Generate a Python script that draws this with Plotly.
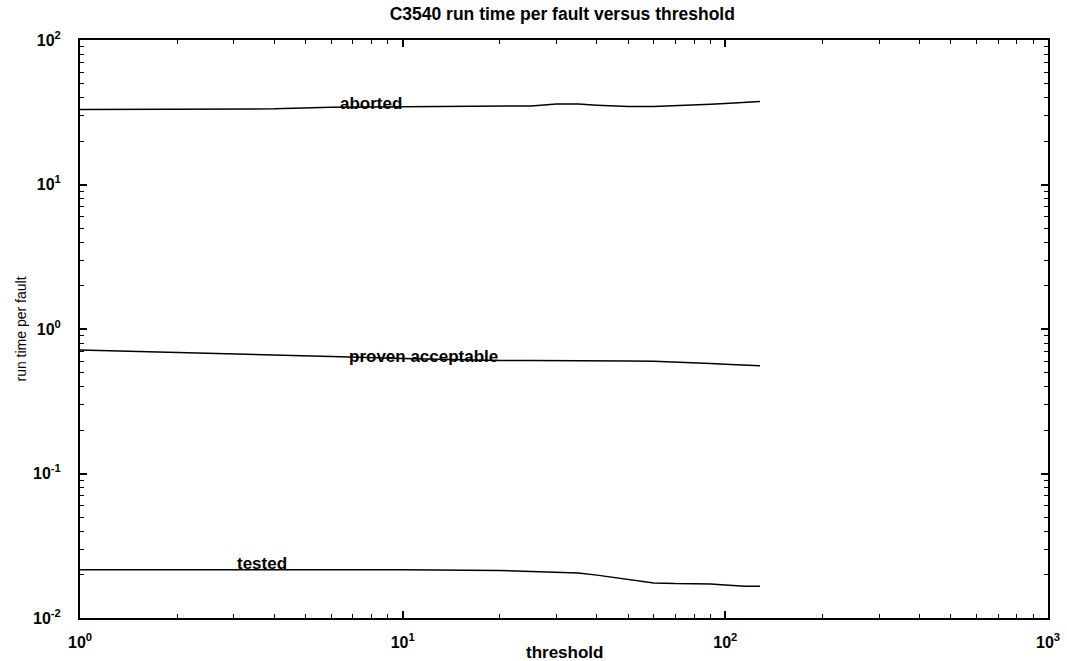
import math
import plotly.graph_objects as go

# ---- data ----
threshold = [1, 2, 3, 4, 6, 10, 15, 20, 25, 30, 35, 40, 50, 60, 70, 80, 90, 100, 115, 128]
aborted = [33.0, 33.0, 33.1, 33.4, 34.2, 34.5, 34.5, 34.6, 35.0, 36.0, 36.1, 35.4, 34.6, 34.6, 35.0, 35.5, 35.9, 36.4, 37.0, 37.5]
proven_acceptable = [0.715, 0.69, 0.675, 0.665, 0.645, 0.625, 0.612, 0.606, 0.605, 0.605, 0.604, 0.602, 0.600, 0.597, 0.592, 0.585, 0.578, 0.571, 0.563, 0.556]
tested = [0.0216, 0.0215, 0.0215, 0.0216, 0.0216, 0.0216, 0.0215, 0.0213, 0.0210, 0.0207, 0.0205, 0.0198, 0.0185, 0.0175, 0.0173, 0.0173, 0.0172, 0.0169, 0.0166, 0.0166]

# label anchor (threshold, value, pixel shift) for each curve
series = [("aborted", aborted, 8.0, 34.5, 3),
          ("proven acceptable", proven_acceptable, 11.6, 0.61, 4),
          ("tested", tested, 3.66, 0.0215, 6)]

x_tickvals = [1, 10, 100, 1000]
x_ticktext = ["<b>10<sup>0</sup></b>", "<b>10<sup>1</sup></b>", "<b>10<sup>2</sup></b>", "<b>10<sup>3</sup></b>"]
y_tickvals = [0.01, 0.1, 1, 10, 100]
y_ticktext = ["<b>10<sup>-2</sup></b>", "<b>10<sup>-1</sup></b>", "<b>10<sup>0</sup></b>", "<b>10<sup>1</sup></b>", "<b>10<sup>2</sup></b>"]

title_text = "C3540 run time per fault versus threshold"
x_title = "threshold"
y_title = "run time per fault"

x_minor = [m * 10 ** d for d in range(0, 3) for m in range(2, 10)]
y_minor = [m * 10 ** d for d in range(-2, 2) for m in range(2, 10)]

FONT = "Liberation Sans, Arial, Helvetica, sans-serif"

fig = go.Figure()
for name, vals, lx, ly, shift in series:
    fig.add_trace(go.Scatter(x=threshold, y=vals, mode="lines", name=name,
                             line=dict(color="black", width=1.5), showlegend=False,
                             hoverinfo="skip"))
    # annotation coordinates on log axes are given in log10 units
    fig.add_annotation(x=math.log10(lx), y=math.log10(ly), xref="x", yref="y",
                       text="<b>%s</b>" % name, showarrow=False, yshift=shift,
                       font=dict(family=FONT, size=17, color="black"))

# x-axis title placed as a paper annotation just below the tick labels
fig.add_annotation(x=0.5, y=0, xref="paper", yref="paper", text="<b>%s</b>" % x_title,
                   showarrow=False, xanchor="center", yanchor="middle", yshift=-34,
                   font=dict(family=FONT, size=17, color="black"))

axis_common = dict(type="log", showline=True, linecolor="black", linewidth=2, mirror="ticks",
                   ticks="inside", ticklen=7, tickwidth=1.5, tickcolor="black", showgrid=False,
                   zeroline=False, automargin=False,
                   tickfont=dict(family=FONT, size=16, color="black"))

fig.update_xaxes(range=[0, 3], tickmode="array", tickvals=x_tickvals, ticktext=x_ticktext,
                 minor=dict(tickmode="array", tickvals=x_minor, ticks="inside", ticklen=4,
                            tickcolor="black", tickwidth=1.2, showgrid=False),
                 ticklabelstandoff=9,
                 **axis_common)
fig.update_yaxes(range=[-2, 2], tickmode="array", tickvals=y_tickvals, ticktext=y_ticktext,
                 minor=dict(tickmode="array", tickvals=y_minor, ticks="inside", ticklen=4,
                            tickcolor="black", tickwidth=1.2, showgrid=False),
                 ticklabelstandoff=14,
                 title=dict(text=y_title, standoff=3,
                            font=dict(family="Liberation Sans Narrow, Liberation Sans, Arial Narrow, sans-serif",
                                      size=14, color="black")),
                 **axis_common)

fig.update_layout(
    width=1067, height=661,
    margin=dict(l=80, r=19, t=40, b=43),
    paper_bgcolor="white", plot_bgcolor="white",
    hovermode=False,
    title=dict(text="<b>%s</b>" % title_text, x=0.527, xanchor="center", y=0.979, yanchor="middle",
               font=dict(family=FONT, size=17.5, color="black")),
)

# remove the browser's default body margin so the figure fills the window exactly
fig.write_html("out.html", config={"displayModeBar": False},
               post_script="document.body.style.margin='0';")
